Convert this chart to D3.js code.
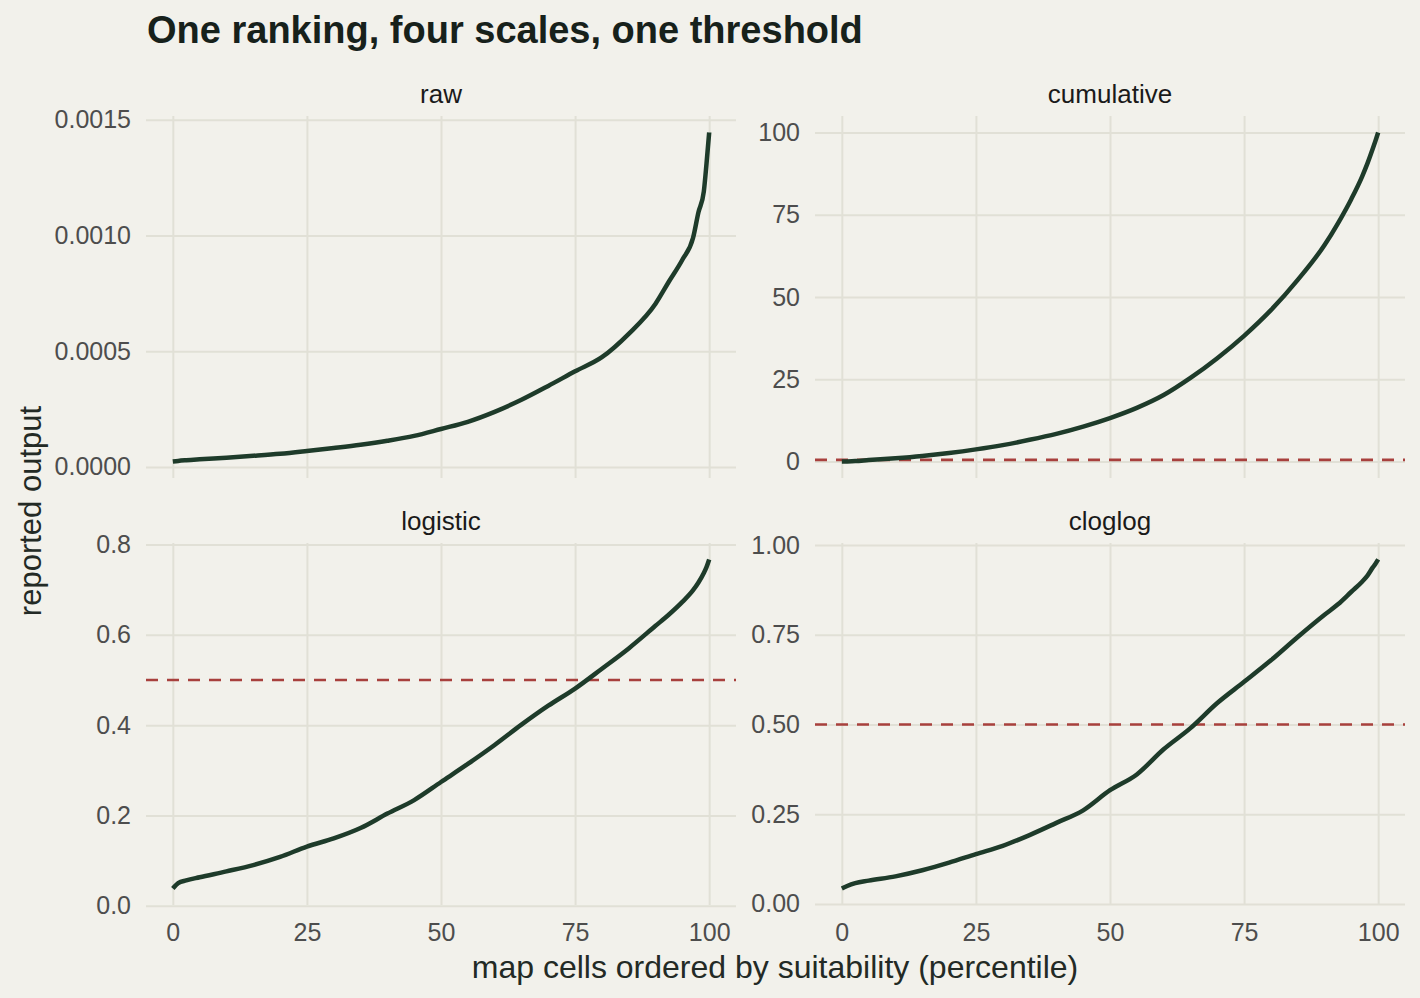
<!DOCTYPE html>
<html>
<head>
<meta charset="utf-8">
<title>One ranking, four scales, one threshold</title>
<style>
  body{ margin:0; background:#f2f1eb; }
  svg{ display:block; font-family:"Liberation Sans", Arial, sans-serif; }
  .grid line{ stroke:#e1e0d6; stroke-width:2; }
  .grid .domain{ display:none; }
  .grid text{ fill:#4d4d4d; font-size:25px; }
</style>
</head>
<body>
<svg id="chart" width="1420" height="998"></svg>
<script src="https://cdn.jsdelivr.net/npm/d3@7"></script>
<script>
// percentile of map cells (x) shared by all four panels
var percentile = [0, 1, 2.5, 5, 10, 15, 20, 25, 30, 35, 40, 45, 50, 55, 60, 65, 70, 75, 80, 85, 90, 92.5, 95, 97, 98, 99, 99.5, 100];

// reported output
var rawOut = [0.0000232, 0.000026, 0.000029, 0.000033, 0.000040, 0.000048, 0.000057, 0.000069, 0.000082, 0.000096, 0.000113, 0.000134, 0.000164, 0.000195, 0.000238, 0.000290, 0.000350, 0.000413, 0.000474, 0.000575, 0.000705, 0.000801, 0.000895, 0.000990, 0.001100, 0.001190, 0.001310, 0.001445];
var cumulativeOut = [0, 0.05, 0.15, 0.45, 1.0, 1.7, 2.6, 3.7, 5.0, 6.6, 8.4, 10.6, 13.2, 16.3, 20.2, 25.4, 31.4, 38.2, 46.0, 55.2, 65.8, 72.4, 79.8, 86.6, 90.6, 95.1, 97.5, 100];
var logisticOut = [0.038, 0.050, 0.056, 0.063, 0.076, 0.090, 0.108, 0.131, 0.149, 0.172, 0.204, 0.234, 0.274, 0.314, 0.356, 0.401, 0.443, 0.481, 0.525, 0.570, 0.620, 0.645, 0.673, 0.699, 0.716, 0.737, 0.750, 0.767];
var cloglogOut = [0.043, 0.050, 0.058, 0.065, 0.077, 0.094, 0.115, 0.139, 0.162, 0.192, 0.226, 0.261, 0.317, 0.361, 0.431, 0.490, 0.560, 0.619, 0.679, 0.744, 0.806, 0.835, 0.870, 0.898, 0.915, 0.938, 0.948, 0.960];

var panelNames = ["raw", "cumulative", "logistic", "cloglog"];
var panelValues = [rawOut, cumulativeOut, logisticOut, cloglogOut];
var thresholds = [null, 0.5, 0.5, 0.5];

var xTicks = [0, 25, 50, 75, 100];
var yTicks = [
  [0, 0.0005, 0.001, 0.0015],
  [0, 25, 50, 75, 100],
  [0, 0.2, 0.4, 0.6, 0.8],
  [0, 0.25, 0.5, 0.75, 1]
];
var yFormats = [".4f", "d", ".1f", ".2f"];

var svg = d3.select("#chart");
svg.append("rect").attr("width", 1420).attr("height", 998).attr("fill", "#f2f1eb");

var colLeft = [146, 815], rowTop = [116, 543];
var pw = 590, ph = 362;

svg.append("text")
  .attr("x", 147).attr("y", 43)
  .attr("font-size", 38).attr("font-weight", "bold")
  .attr("fill", "#17211b")
  .text("One ranking, four scales, one threshold");

panelNames.forEach(function(name, i){
  var left = colLeft[i % 2], top = rowTop[Math.floor(i / 2)];
  var vals = panelValues[i];
  var data = percentile.map(function(p, j){ return {p: p, v: vals[j]}; });

  var x = d3.scaleLinear().domain([-5, 105]).range([left, left + pw]);
  var ext = d3.extent(vals);
  var pad = (ext[1] - ext[0]) * 0.05;
  var y = d3.scaleLinear().domain([ext[0] - pad, ext[1] + pad]).range([top + ph, top]);

  var g = svg.append("g");

  g.append("g").attr("class", "grid")
    .attr("transform", "translate(" + left + ",0)")
    .call(d3.axisLeft(y).tickValues(yTicks[i]).tickSize(-pw).tickPadding(15)
      .tickFormat(d3.format(yFormats[i])));

  var xa = g.append("g").attr("class", "grid")
    .attr("transform", "translate(0," + (top + ph) + ")")
    .call(d3.axisBottom(x).tickValues(xTicks).tickSize(-ph).tickPadding(18));
  if (top === rowTop[0]) xa.selectAll("text").remove();

  g.append("text")
    .attr("x", left + pw / 2).attr("y", top - 13)
    .attr("text-anchor", "middle").attr("font-size", 26).attr("fill", "#1a1a1a")
    .text(name);

  if (thresholds[i] !== null) {
    g.append("line")
      .attr("x1", left).attr("x2", left + pw)
      .attr("y1", y(thresholds[i])).attr("y2", y(thresholds[i]))
      .attr("stroke", "#a8403d").attr("stroke-width", 2.6)
      .attr("stroke-dasharray", "12,9");
  }

  g.append("path").datum(data)
    .attr("fill", "none").attr("stroke", "#1e3b2a").attr("stroke-width", 4.5)
    .attr("stroke-linejoin", "round")
    .attr("d", d3.line().x(function(d){ return x(d.p); }).y(function(d){ return y(d.v); })
      .curve(d3.curveMonotoneX));
});

svg.append("text")
  .attr("x", 775).attr("y", 978)
  .attr("text-anchor", "middle").attr("font-size", 32).attr("fill", "#232a25")
  .text("map cells ordered by suitability (percentile)");

svg.append("text")
  .attr("transform", "translate(41,511) rotate(-90)")
  .attr("text-anchor", "middle").attr("font-size", 31).attr("fill", "#232a25")
  .text("reported output");
</script>
</body>
</html>
